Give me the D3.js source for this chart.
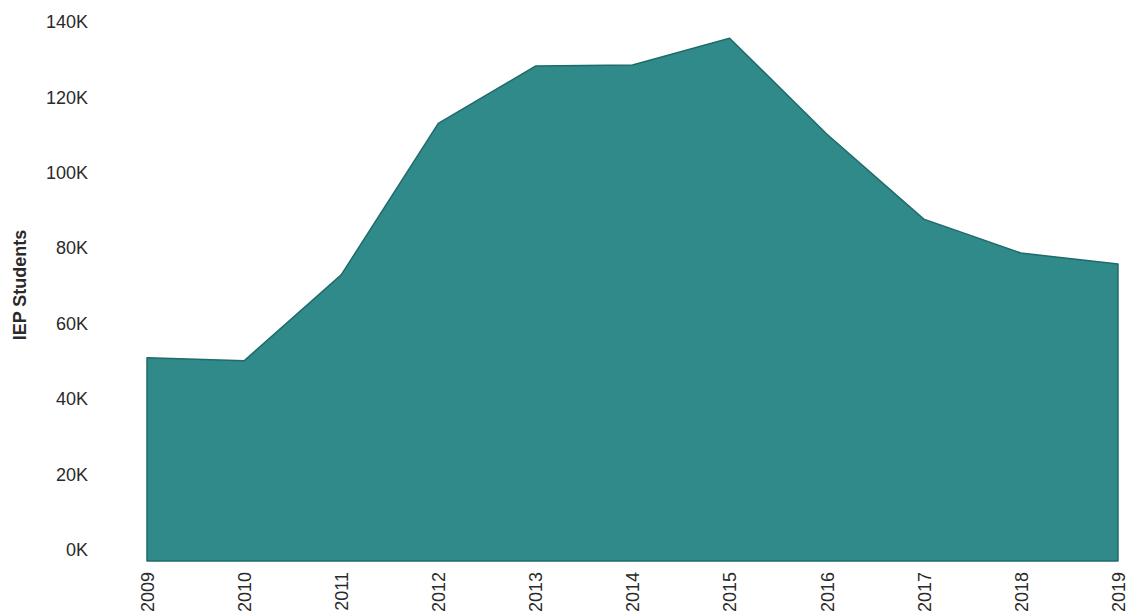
<!DOCTYPE html>
<html>
<head>
<meta charset="utf-8">
<script src="https://cdn.jsdelivr.net/npm/d3@7"></script>
<style>
	body { margin: 0; background: #fff; }
	svg { display: block; font-family: 'Liberation Sans', Arial, sans-serif; }
	.tick text { fill: #2a2a2a; font-size: 18px; }
</style>
</head>
<body>
<svg id="chart-svg" width="1129" height="613"></svg>
<script>
// IEP students per year
const years = [2009, 2010, 2011, 2012, 2013, 2014, 2015, 2016, 2017, 2018, 2019];
const students = [50900, 50100, 72900, 113100, 128300, 128600, 135700, 110300, 87700, 78700, 75800];
const yTicks = [0, 20000, 40000, 60000, 80000, 100000, 120000, 140000];
const yLabel = 'IEP Students';

const svg = d3.select('#chart-svg');
const data = years.map((y, i) => ({ year: y, value: students[i] }));

// area floor sits a little under the 0K tick, as in the original
const x = d3.scaleLinear().domain([2009, 2019]).range([147, 1118]);
const y = d3.scaleLinear().domain([-3000, 140000]).range([561, 22]);

const area = d3
	.area()
	.x((d) => x(d.year))
	.y0(y(y.domain()[0]))
	.y1((d) => y(d.value))
	.curve(d3.curveLinear);

svg
	.append('path')
	.datum(data)
	.attr('d', area)
	.attr('fill', '#2f8a89')
	.attr('stroke', '#1f6b6b')
	.attr('stroke-width', 1.5)
	.attr('stroke-linejoin', 'round');

// y axis: labels only
const yAxis = svg
	.append('g')
	.attr('transform', 'translate(92,0)')
	.call(d3.axisLeft(y).tickValues(yTicks).tickSize(0).tickPadding(4).tickFormat((d) => d / 1000 + 'K'));
yAxis.select('.domain').remove();

// x axis: rotated year labels
const xAxis = svg
	.append('g')
	.attr('transform', 'translate(0,' + y(y.domain()[0]) + ')')
	.call(d3.axisBottom(x).tickValues(years).tickSize(0).tickFormat(d3.format('d')));
xAxis.select('.domain').remove();
xAxis
	.selectAll('text')
	.attr('transform', 'rotate(-90)')
	.attr('text-anchor', 'end')
	.attr('x', -11)
	.attr('y', 0)
	.attr('dy', '0.35em');

svg
	.append('text')
	.attr('transform', 'translate(20,285) rotate(-90)')
	.attr('text-anchor', 'middle')
	.attr('dy', '0.35em')
	.attr('font-size', 18)
	.attr('font-weight', 'bold')
	.attr('fill', '#2a2a2a')
	.text(yLabel);
</script>
</body>
</html>
